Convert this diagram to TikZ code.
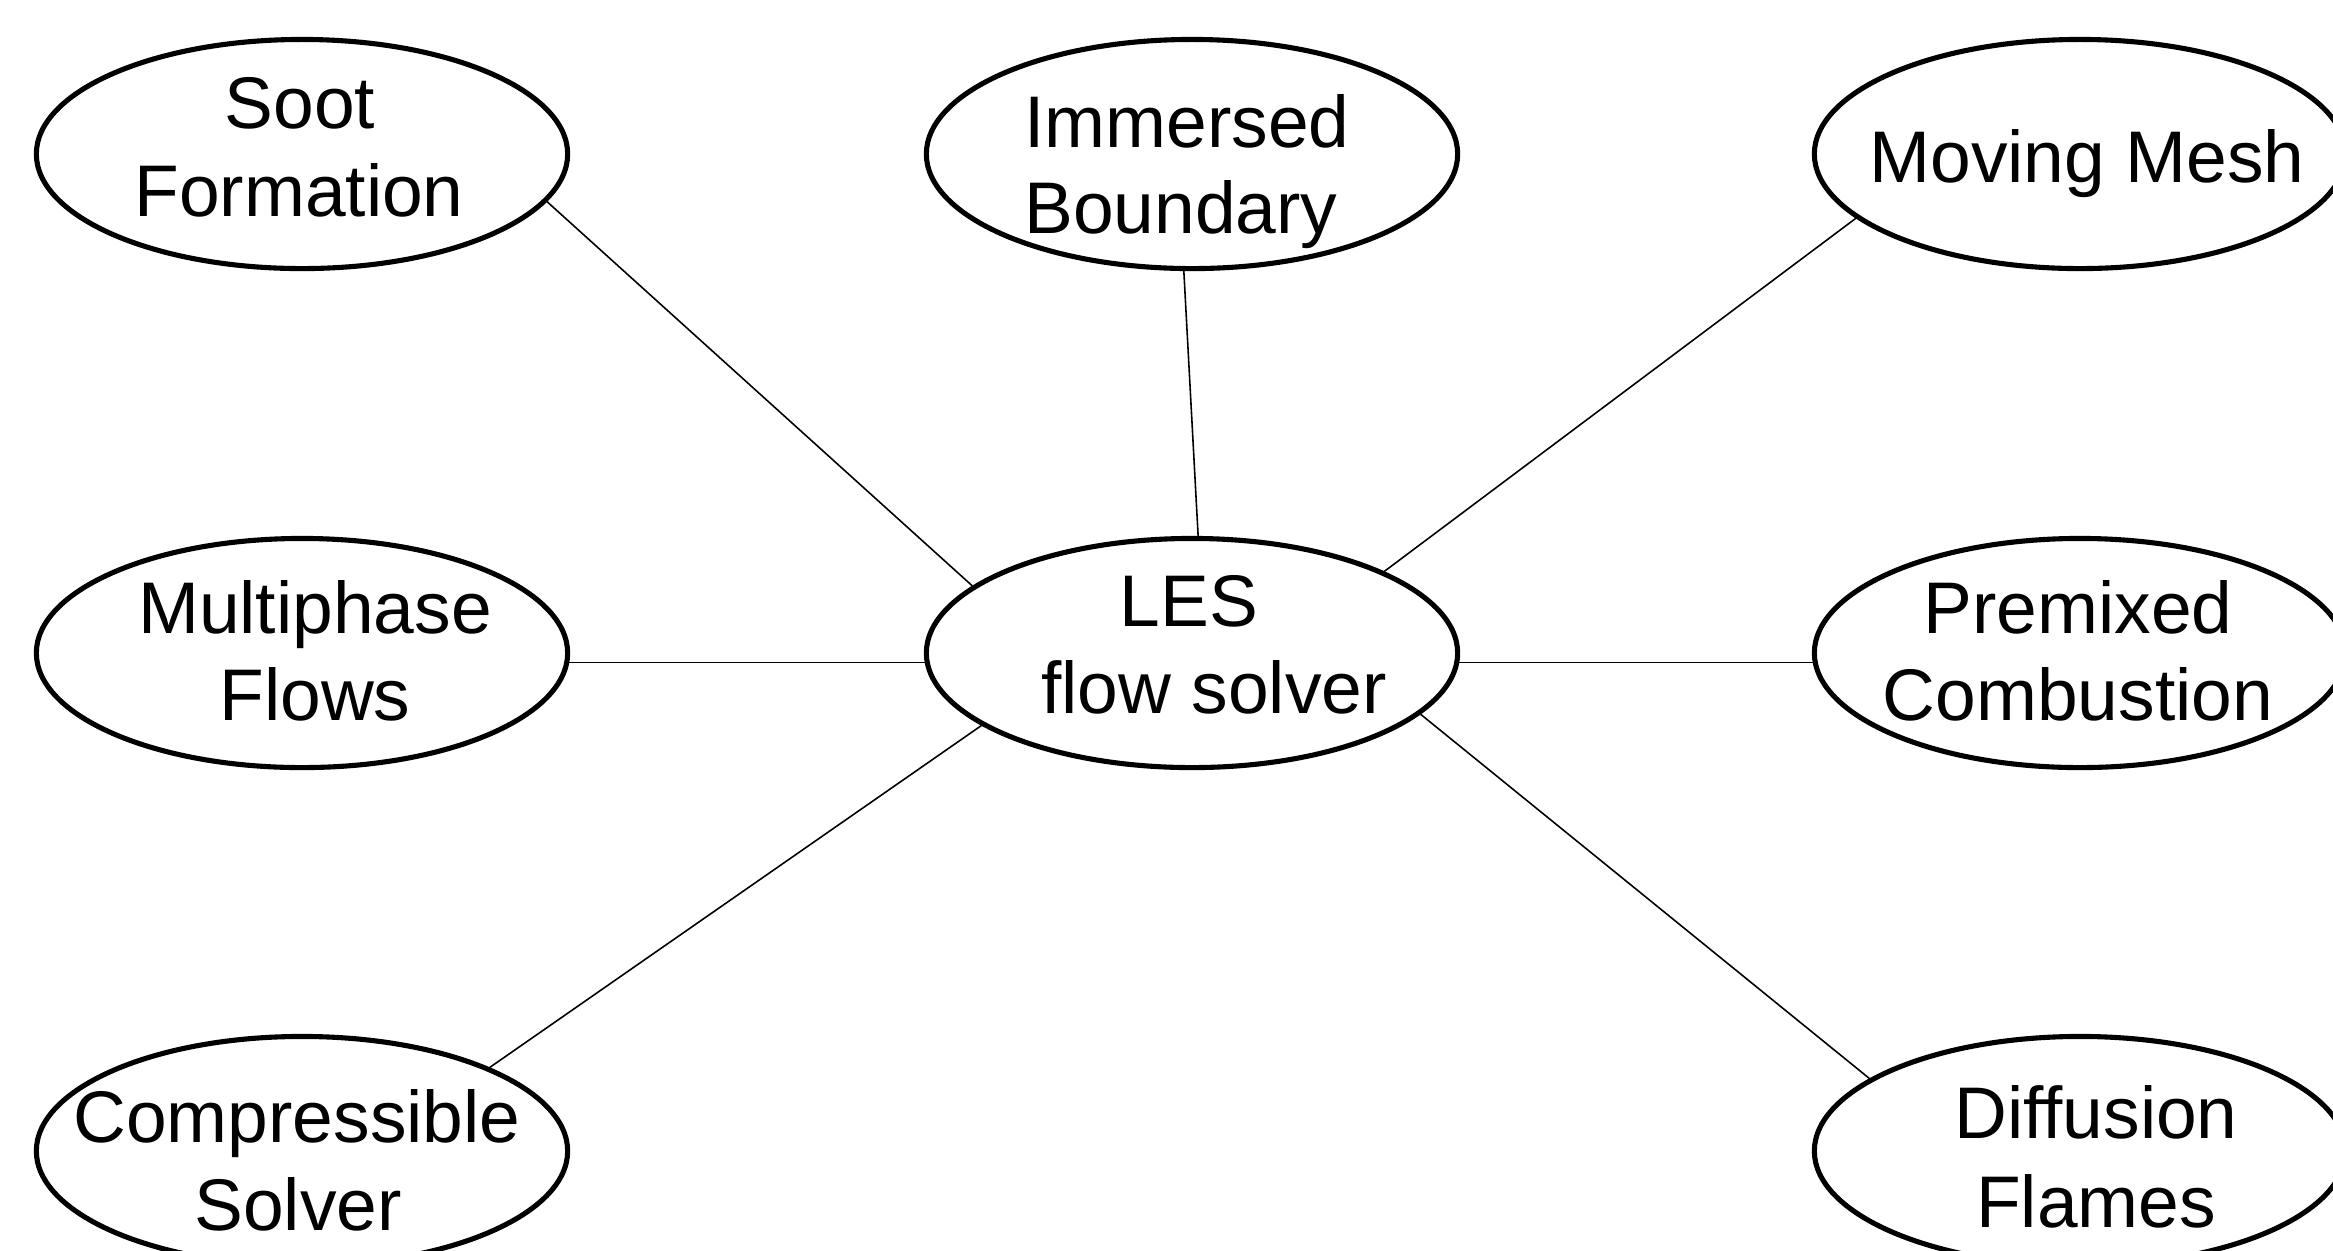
\documentclass[tikz,border=0pt]{standalone}
\usepackage{fontspec}
\setmainfont{Liberation Sans}
\usetikzlibrary{shapes.geometric}
\tikzset{
  topic/.style={ellipse, draw=black, line width=1.45pt, inner sep=0pt,
    minimum width=5.31cm, minimum height=2.29cm},
  txt/.style={anchor=base, inner sep=0pt, font=\fontsize{20.8}{25}\selectfont},
  link/.style={draw=black, line width=0.45pt}
}
\begin{document}
\begin{tikzpicture}[x=0.01cm, y=-0.01cm]
\useasboundingbox[fill=white] (0,0) rectangle (2333,1250);
% ellipses
\node[topic] (soot) at (302,154) {};
\node[topic] (imm)  at (1192,154) {};
\node[topic] (mov)  at (2080,154) {};
\node[topic] (mul)  at (302,653) {};
\node[topic] (les)  at (1192,653) {};
\node[topic] (pre)  at (2080,653) {};
\node[topic] (com)  at (302,1151) {};
\node[topic] (dif)  at (2080,1151) {};
% texts
\node[txt] (soot1) at (300,128) {Soot};
\node[txt] (soot2) at (299,216) {Formation};
\node[txt] (imm1) at (1187,147) {Immersed};
\node[txt] (imm2) at (1181,233) {Boundary};
\node[txt] (mov1) at (2087,182) {Moving Mesh};
\node[txt] (mul1) at (315,633) {Multiphase};
\node[txt] (mul2) at (315,720) {Flows};
\node[txt] (les1) at (1189,626) {LES};
\node[txt] (les2) at (1214,713) {flow solver};
\node[txt] (pre1) at (2078,633) {Premixed};
\node[txt] (pre2) at (2078,720) {Combustion};
\node[txt] (com1) at (297,1142) {Compressible};
\node[txt] (com2) at (298,1230) {Solver};
\node[txt] (dif1) at (2096,1138) {Diffusion};
\node[txt] (dif2) at (2096,1227) {Flames};
% connectors
\draw[link] (soot.-11.6) -- (les.163.6);
\draw[link] (imm.-94.5) -- (les.87);
\draw[link] (mov.196.3) -- (les.23.4);
\draw[link] (mul.-2.1) -- (les.182.2);
\draw[link] (les.-2.1) -- (pre.182.2);
\draw[link] (les.199.1) -- (com.24.3);
\draw[link] (les.-15.4) -- (dif.161.4);
\end{tikzpicture}
\end{document}
